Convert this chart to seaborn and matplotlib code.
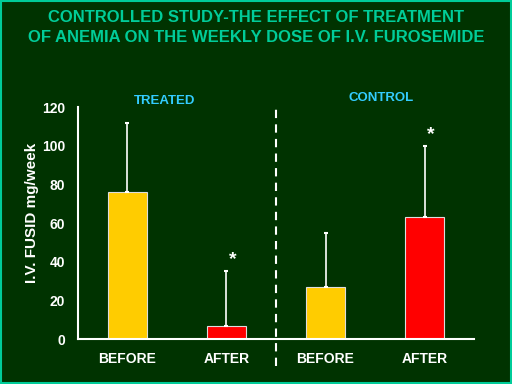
import pandas as pd
import numpy as np
import seaborn as sns
import matplotlib.pyplot as plt

# values
groups = ["TREATED", "TREATED", "CONTROL", "CONTROL"]
periods = ["BEFORE", "AFTER", "BEFORE", "AFTER"]
dose_mean = [76, 7, 27, 63]
dose_sd = [36, 28, 28, 37]
significant = [False, True, False, True]
y_ticks = [0, 20, 40, 60, 80, 100, 120]

bg = "#003300"
bar_colors = ["#FFCC00", "#FF0000", "#FFCC00", "#FF0000"]

df = pd.DataFrame({"group": groups, "period": periods, "dose": dose_mean})
df["slot"] = [f"{g}-{p}" for g, p in zip(groups, periods)]

sns.set_style("dark")
plt.rcParams["font.family"] = ["Liberation Sans", "DejaVu Sans"]

fig = plt.figure(figsize=(5.12, 3.84), dpi=100, facecolor=bg)
ax = fig.add_axes([0.152, 0.117, 0.774, 0.604])
ax.set_facecolor(bg)

sns.barplot(data=df, x="slot", y="dose", hue="slot", palette=bar_colors,
            saturation=1, width=0.4, edgecolor="#dddddd", linewidth=0.8,
            legend=False, ax=ax)

# upward-only error bars
x = np.arange(len(dose_mean))
ax.errorbar(x, dose_mean, yerr=[np.zeros(len(dose_sd)), dose_sd], fmt="none",
            ecolor="white", elinewidth=1.2, capsize=1.5, capthick=1.5)

for xi, m, s, sig in zip(x, dose_mean, dose_sd, significant):
    if sig:
        ax.text(xi + 0.06, m + s + 6, "*", color="white", fontsize=14,
                fontweight="bold", ha="center", va="center")

# divider between the two groups
ax.plot([1.5, 1.5], [-14, 120], color="white", lw=1.5, ls=(0, (4, 3)),
        clip_on=False)

ax.text(0.38, 123, "TREATED", color="#33CCFF", fontsize=9.5, fontweight="bold",
        ha="center", va="center")
ax.text(2.56, 124.7, "CONTROL", color="#33CCFF", fontsize=9.5, fontweight="bold",
        ha="center", va="center")

ax.set_xlim(-0.5, 3.5)
ax.set_ylim(0, 120)
ax.set_yticks(y_ticks)
ax.set_xticks(x)
ax.set_xticklabels(periods)
ax.set_xticks([0.5, 1.5, 2.5, 3.5], minor=True)
ax.tick_params(axis="x", which="major", length=0, pad=9, colors="white", labelsize=10)
ax.tick_params(axis="x", which="minor", length=4, width=1.5, color="white", direction="out")
ax.tick_params(axis="y", length=4, width=1.5, color="white", labelcolor="white",
               labelsize=10, pad=5)
for lab in ax.get_xticklabels() + ax.get_yticklabels():
    lab.set_fontweight("bold")

for side in ["top", "right"]:
    ax.spines[side].set_visible(False)
for side in ["left", "bottom"]:
    ax.spines[side].set_color("white")
    ax.spines[side].set_linewidth(1.5)
ax.grid(False)
ax.set_xlabel("")
ax.set_ylabel("I.V. FUSID mg/week", color="white", fontsize=11, fontweight="bold")
ax.yaxis.set_label_coords(-0.098, 0.545)

fig.text(0.5, 0.975, "CONTROLLED STUDY-THE EFFECT OF TREATMENT\nOF ANEMIA ON THE WEEKLY DOSE OF I.V. FUROSEMIDE",
         color="#00CC99", fontsize=12, fontweight="bold", ha="center", va="top",
         linespacing=1.45)

# thin teal frame round the slide
fig.patches.append(plt.Rectangle((0.002, 0.003), 0.996, 0.994, transform=fig.transFigure,
                                 fill=False, edgecolor="#00CC99", lw=1.5))

plt.savefig("out.png", dpi=100, facecolor=bg)
